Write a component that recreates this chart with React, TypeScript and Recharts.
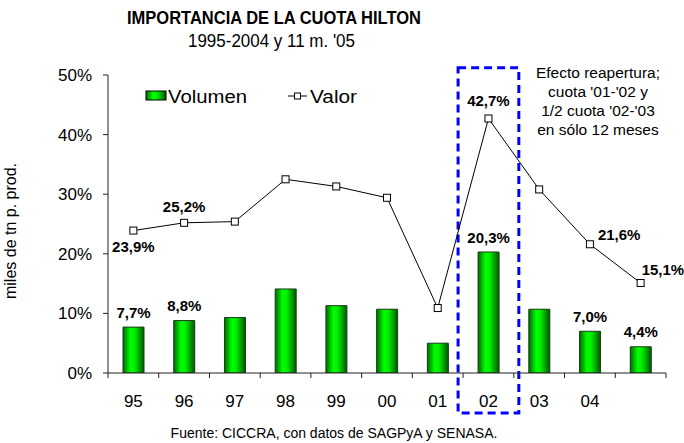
import React from "react";
import { ComposedChart, Bar, Line, XAxis, YAxis, ReferenceArea, LabelList } from "recharts";

const categories = ["95", "96", "97", "98", "99", "00", "01", "02", "03", "04", ""];
const volumen = [7.7, 8.8, 9.3, 14.1, 11.3, 10.7, 5.0, 20.3, 10.7, 7.0, 4.4];
const valor = [23.9, 25.2, 25.4, 32.5, 31.3, 29.4, 10.9, 42.7, 30.8, 21.6, 15.1];
const yTicks = [0, 10, 20, 30, 40, 50];
const volumenLabeled = [0, 1, 7, 9, 10];
const valorLabeled = [0, 1, 7, 9, 10];
const highlightCategory = "02";
const highlightRange = [-6.7, 51.2];
const noteLines = ["Efecto reapertura;", "cuota '01-'02 y", "1/2 cuota '02-'03", "en sólo 12 meses"];
const title = "IMPORTANCIA DE LA CUOTA HILTON";
const subtitle = "1995-2004 y 11 m. '05";
const yLabel = "miles de tn p. prod.";
const footer = "Fuente: CICCRA, con datos de SAGPyA y SENASA.";

const data = categories.map((c, i) => ({ cat: c, volumen: volumen[i], valor: valor[i] }));

const FONT = "'Liberation Sans', Arial, sans-serif";
const TICK_SIZE = 5;
const X_TICK_MARGIN = 17;

const fmt = (v: number) => v.toFixed(1).replace(".", ",") + "%";

// label offsets for line labels: [dx, dy, anchor]
const valorLabelPos: Record<number, [number, number, string]> = {
  0: [0, 16, "middle"],
  1: [0, -16, "middle"],
  7: [0, -18, "middle"],
  9: [8, -10, "start"],
  10: [1, -14, "start"],
};

const XTick = (props: any) => {
  const { x, y, payload, index } = props;
  const half = payload && typeof payload.offset === "number" && payload.offset > 0 ? payload.offset : 25.36;
  const y0 = y - X_TICK_MARGIN - TICK_SIZE;
  const last = index === categories.length - 1;
  return (
    <g>
      <line x1={x - half} x2={x - half} y1={y0} y2={y0 + TICK_SIZE} stroke="#222" />
      {last && <line x1={x + half} x2={x + half} y1={y0} y2={y0 + TICK_SIZE} stroke="#222" />}
      <text x={x} y={y} dy="0.71em" textAnchor="middle" fontSize={17} fontFamily={FONT} fill="#000">
        {payload.value}
      </text>
    </g>
  );
};

const BarLabel = (props: any) => {
  const idx = props.index;
  if (!volumenLabeled.includes(idx)) return null;
  const vb = props.viewBox || props;
  const x = (vb.x ?? props.x) + (vb.width ?? props.width ?? 0) / 2;
  const y = vb.y ?? props.y;
  return (
    <text x={x} y={y - 15} textAnchor="middle" dominantBaseline="central" fontSize={15} fontWeight="bold" fontFamily={FONT} fill="#000">
      {fmt(Number(props.value))}
    </text>
  );
};

const LineLabel = (props: any) => {
  const idx = props.index;
  if (!valorLabeled.includes(idx)) return null;
  const vb = props.viewBox || props;
  const x = vb.x ?? props.x;
  const y = vb.y ?? props.y;
  const [dx, dy, anchor] = valorLabelPos[idx] || [0, -15, "middle"];
  return (
    <text x={x + dx} y={y + dy} textAnchor={anchor as any} dominantBaseline="central" fontSize={15} fontWeight="bold" fontFamily={FONT} fill="#000">
      {fmt(Number(props.value))}
    </text>
  );
};

const SquareDot = (props: any) => {
  const { cx, cy } = props;
  if (cx == null || cy == null) return null;
  return <rect x={cx - 3.5} y={cy - 3.5} width={7} height={7} fill="#fff" stroke="#000" strokeWidth={1} />;
};

const HighlightBox = (props: any) => {
  const { x, y, width, height } = props;
  return (
    <rect x={x - 5} y={y} width={width + 10} height={height} fill="none" stroke="#0000ff" strokeWidth={3} strokeDasharray="8 5" />
  );
};

export default function App() {
  return (
    <div style={{ position: "absolute", left: 0, top: 0, width: 684, height: 443, background: "#fff" }}>
      <ComposedChart
        width={684}
        height={443}
        data={data}
        margin={{ top: 75, right: 18, bottom: 40, left: 48 }}
      >
        <defs>
          <linearGradient id="gv" x1="0" y1="0" x2="1" y2="0">
            <stop offset="0%" stopColor="#006a00" />
            <stop offset="35%" stopColor="#00ff00" />
            <stop offset="55%" stopColor="#00f000" />
            <stop offset="100%" stopColor="#005800" />
          </linearGradient>
        </defs>
        <XAxis
          dataKey="cat"
          tickLine={false}
          tickSize={TICK_SIZE}
          tickMargin={X_TICK_MARGIN}
          axisLine={{ stroke: "#222" }}
          tick={<XTick />}
          interval={0}
          height={30}
        />
        <YAxis
          domain={[0, 50]}
          ticks={yTicks}
          tickFormatter={(v: number) => v + "%"}
          width={60}
          tickSize={TICK_SIZE}
          tickMargin={11}
          axisLine={{ stroke: "#222" }}
          tickLine={{ stroke: "#222" }}
          tick={{ fontSize: 17, fill: "#000", fontFamily: FONT }}
          allowDataOverflow
        />
        <Bar dataKey="volumen" barSize={21} fill="url(#gv)" stroke="#1a3a1a" strokeWidth={1} isAnimationActive={false}>
          <LabelList dataKey="volumen" content={<BarLabel />} />
        </Bar>
        <Line
          dataKey="valor"
          type="linear"
          stroke="#000"
          strokeWidth={1}
          dot={<SquareDot />}
          activeDot={false}
          isAnimationActive={false}
        >
          <LabelList dataKey="valor" content={<LineLabel />} />
        </Line>
        <ReferenceArea
          x1={highlightCategory}
          x2={highlightCategory}
          y1={highlightRange[0]}
          y2={highlightRange[1]}
          ifOverflow="visible"
          shape={<HighlightBox />}
        />
      </ComposedChart>
      <svg width={684} height={443} style={{ position: "absolute", left: 0, top: 0, pointerEvents: "none" }}>
        <defs>
          <linearGradient id="gvl" x1="0" y1="0" x2="1" y2="0">
            <stop offset="0%" stopColor="#006a00" />
            <stop offset="35%" stopColor="#00ff00" />
            <stop offset="55%" stopColor="#00f000" />
            <stop offset="100%" stopColor="#005800" />
          </linearGradient>
        </defs>
        <text x={127} y={17} dominantBaseline="central" fontSize={19} fontWeight="bold" fontFamily={FONT} fill="#000" textLength={294} lengthAdjust="spacingAndGlyphs">
          {title}
        </text>
        <text x={188} y={41} dominantBaseline="central" fontSize={18} fontFamily={FONT} fill="#000" textLength={167} lengthAdjust="spacingAndGlyphs">
          {subtitle}
        </text>
        <text
          x={10}
          y={231}
          textAnchor="middle"
          dominantBaseline="central"
          fontSize={16}
          fontFamily={FONT}
          fill="#000"
          transform="rotate(-90 10 231)"
        >
          {yLabel}
        </text>
        <rect x={146} y={91} width={20} height={9} fill="url(#gvl)" stroke="#000" strokeWidth={1} />
        <text x={168} y={97} dominantBaseline="central" fontSize={17.5} fontFamily={FONT} fill="#000" textLength={79} lengthAdjust="spacingAndGlyphs">
          Volumen
        </text>
        <line x1={288} x2={307} y1={96} y2={96} stroke="#000" strokeWidth={1} />
        <rect x={294.5} y={93} width={6} height={6} fill="#fff" stroke="#000" strokeWidth={1} />
        <text x={310} y={97} dominantBaseline="central" fontSize={17.5} fontFamily={FONT} fill="#000" textLength={47} lengthAdjust="spacingAndGlyphs">
          Valor
        </text>
        {noteLines.map((t, i) => (
          <text key={i} x={598} y={72 + i * 19} textAnchor="middle" dominantBaseline="central" fontSize={15.5} fontFamily={FONT} fill="#000">
            {t}
          </text>
        ))}
        <text x={334} y={433} textAnchor="middle" dominantBaseline="central" fontSize={14} fontFamily={FONT} fill="#000">
          {footer}
        </text>
      </svg>
    </div>
  );
}
